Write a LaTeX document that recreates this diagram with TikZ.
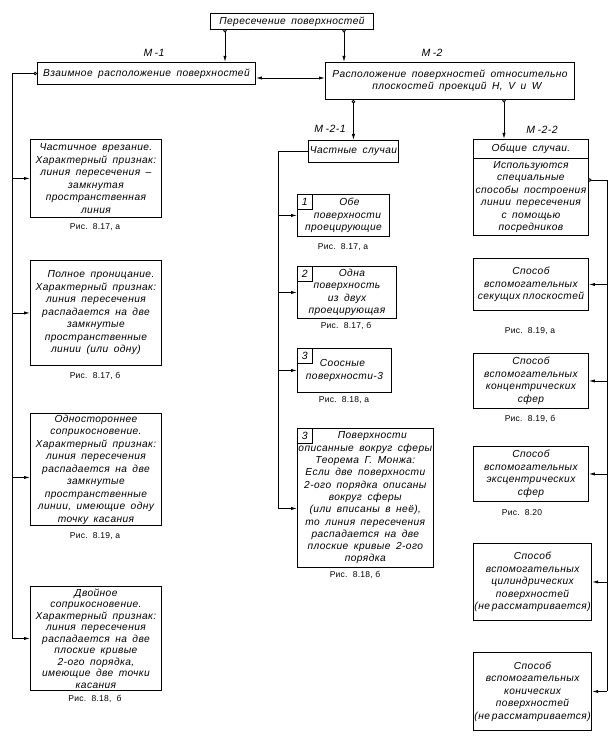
\documentclass[tikz,border=0pt]{standalone}
\usepackage{fontspec}
\newfontfamily\gost[LetterSpace=4,WordSpace=1.7]{Liberation Sans}
\newfontfamily\gostcap[LetterSpace=3]{Liberation Sans}
\usetikzlibrary{arrows.meta}
\newcommand\bx[7][]{\node[box,#1,minimum width={(#5-#3)*1pt},minimum height={(#6-#4)*1pt}] (#2) at (#3,#4) {#7};}
\begin{document}
\begin{tikzpicture}[x=1pt,y=-1pt,
  box/.style={draw, line width=0.9pt, anchor=north west, inner sep=1pt, align=center,
    font=\gost\itshape\fontsize{10.2}{12.5}\selectfont},
  cell/.style={draw, line width=0.8pt, anchor=north west, inner sep=0pt, minimum width=15pt, minimum height=15pt,
    font=\gost\itshape\fontsize{10.5}{12}\selectfont},
  figcap/.style={font=\gostcap\fontsize{8.5}{9}\selectfont, inner sep=0pt},
  lab/.style={font=\gost\itshape\fontsize{10.5}{12}\selectfont, inner sep=0pt},
  con/.style={line width=0.8pt},
  arr/.style={con, -{Latex[length=6pt,width=3.2pt]}},
  circarr/.style={con, {Circle[open,length=3.5pt,width=3.5pt]}-{Latex[length=6pt,width=3.2pt]}},
  circline/.style={con, {Circle[open,length=3.5pt,width=3.5pt]}-},
  dblarr/.style={con, {Latex[length=6pt,width=3.2pt]}-{Latex[length=6pt,width=3.2pt]}}
]
\useasboundingbox (0,0) rectangle (610,746);

% top level
\bx{top}{210}{13}{373}{29}{Пересечение поверхностей}
\bx{m1}{37}{62}{255}{84}{Взаимное расположение поверхностей}
\bx{m2}{325}{62}{574}{99}{Расположение поверхностей относительно\\\hspace*{14pt}плоскостей проекций H, V и W}
\node[lab] (lm1) at (154,53) {М\hspace{2.5pt}-1};
\node[lab] (lm2) at (432,53) {М\hspace{2.5pt}-2};

\coordinate (t1) at (225,29);
\coordinate (t2) at (344,29);
\draw[circarr] (t1) -- (t1 |- m1.north);
\draw[circarr] (t2) -- (t2 |- m2.north);
\coordinate (ya) at (0,78);
\draw[dblarr] (m1.east |- ya) -- (m2.west |- ya);

% left column
\bx{L1}{30}{139}{161}{217}{Частичное врезание.\\Характерный признак:\\линия пересечения –\\замкнутая\\пространственная\\линия}
\bx{L2}{30}{260}{161}{365}{\hspace*{10pt}Полное проницание.\\Характерный признак:\\линия пересечения\\распадается на две\\замкнутые\\пространственные\\линии (или одну)}
\bx{L3}{30}{413}{161}{525}{Одностороннее\\соприкосновение.\\Характерный признак:\\линия пересечения\\распадается на две\\замкнутые\\пространственные\\линии, имеющие одну\\точку касания}
\bx[font=\gost\itshape\fontsize{10.2}{11.5}\selectfont]{L4}{30}{586}{161}{690}{Двойное\\соприкосновение.\\Характерный признак:\\линия пересечения\\распадается на две\\плоские кривые\\2-ого порядка,\\имеющие две точки\\касания}
\node[figcap] (cL1) at (95,227) {Рис.\ \ 8.17,\ а};
\node[figcap] (cL2) at (95,376) {Рис.\ \ 8.17,\ б};
\node[figcap] (cL3) at (95,536) {Рис.\ \ 8.19,\ а};
\node[figcap] (cL4) at (95,699) {Рис.\ \ 8.18,\ \ б};

\coordinate (lx) at (12,0);
\coordinate (a3) at ([yshift=-8pt]L3.west);
\draw[circline] (m1.west) -- (m1.west -| lx) -- (lx |- L4.west);
\draw[arr] (lx |- L1.west) -- (L1.west);
\draw[arr] (lx |- L2.west) -- (L2.west);
\draw[arr] (a3 -| lx) -- (a3);
\draw[arr] (lx |- L4.west) -- (L4.west);

% middle column
\bx{chast}{308}{140}{398}{162}{Частные случаи}
\node[lab] (lm21) at (330,129) {М\hspace{2.5pt}-2-1};
\draw[circarr] (chast.north |- m2.south) -- (chast.north);

\bx{C1}{297}{194}{389}{236}{\hspace*{12pt}Обе\\\hspace*{8pt}поверхности\\проецирующие}
\node[cell] (n1) at (297,194) {1};
\bx{C2}{297}{266}{396}{318}{\hspace*{10pt}Одна\\поверхность\\из двух\\проецирующая}
\node[cell] (n2) at (297,266) {2};
\bx[align=left]{C3}{297}{348}{391}{392}{\hspace*{14pt}Соосные\\поверхности-3}
\node[cell] (n3) at (297,348) {3};
\bx[font=\gost\itshape\fontsize{10.2}{12.3}\selectfont]{C4}{297}{428}{432}{567}{\hspace*{14pt}Поверхности\\описанные вокруг сферы\\Теорема Г. Монжа:\\Если две поверхности\\2-ого порядка описаны\\вокруг сферы\\(или вписаны в неё),\\то линия пересечения\\распадается на две\\плоские кривые 2-ого\\порядка}
\node[cell] (n4) at (297,428) {3};
\node[figcap] (cC1) at (343,247) {Рис.\ \ 8.17,\ а};
\node[figcap] (cC2) at (346,326) {Рис.\ \ 8.17,\ б};
\node[figcap] (cC3) at (344,400) {Рис.\ \ 8.18,\ а};
\node[figcap] (cC4) at (355,575) {Рис.\ \ 8.18,\ б};

\coordinate (mx) at (278,0);
\coordinate (a4) at ([yshift=-10.5pt]C4.west);
\draw[con] (chast.west) -- (chast.west -| mx) -- (mx |- a4);
\draw[arr] (mx |- C1.west) -- (C1.west);
\draw[arr] (mx |- C2.west) -- (C2.west);
\draw[arr] (mx |- C3.west) -- (C3.west);
\draw[arr] (a4 -| mx) -- (a4);

% right column
\bx{obsh}{473}{139}{588}{158}{Общие случаи.}
\bx{obshb}{473}{158}{588}{235}{Используются\\специальные\\способы построения\\линии пересечения\\с помощью\\посредников}
\node[lab] (lm22) at (542,130) {М\hspace{2.5pt}-2-2};
\coordinate (m2b) at (504,99);
\draw[circarr] (m2b) -- (m2b |- obsh.north);

\bx{R1}{473}{258}{588}{310}{Способ\\вспомогательных\\секущих\hspace{2.5pt}плоскостей}
\bx{R2}{473}{353}{588}{408}{Способ\\вспомогательных\\концентрических\\сфер}
\bx{R3}{473}{446}{588}{501}{Способ\\вспомогательных\\эксцентрических\\сфер}
\bx{R4}{473}{543}{588}{620}{Способ\\вспомогательных\\цилиндрических\\поверхностей\\(не\hspace{2pt}рассматривается)}
\bx{R5}{473}{652}{588}{730}{Способ\\вспомогательных\\конических\\поверхностей\\(не\hspace{2pt}рассматривается)}
\node[figcap] (cR1) at (530,331) {Рис.\ \ 8.19,\ а};
\node[figcap] (cR2) at (530,419) {Рис.\ \ 8.19,\ б};
\node[figcap] (cR3) at (522,513) {Рис.\ \ 8.20};

\coordinate (rx) at (607,0);
\coordinate (ob1) at (588,180);
\draw[circline] (ob1) -- (ob1 -| rx) -- (rx |- R5.east);
\draw[arr] (rx |- R1.east) -- (R1.east);
\draw[arr] (rx |- R2.east) -- (R2.east);
\draw[arr] (rx |- R3.east) -- (R3.east);
\draw[arr] (rx |- R4.east) -- (R4.east);
\draw[arr] (rx |- R5.east) -- (R5.east);
\end{tikzpicture}
\end{document}
